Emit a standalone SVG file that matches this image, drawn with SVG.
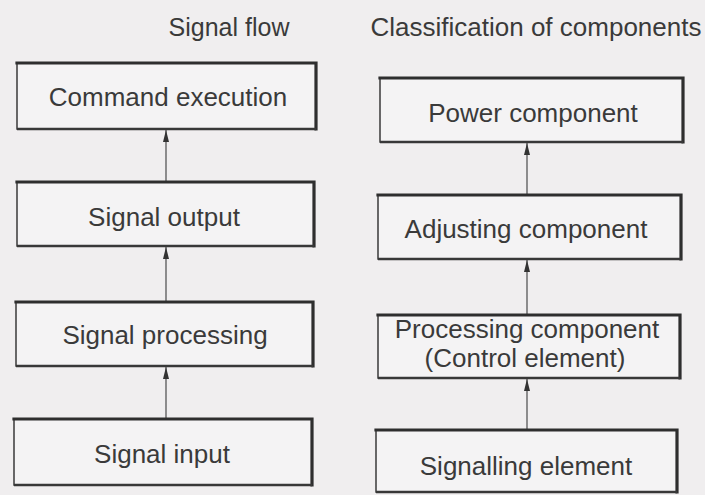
<svg xmlns="http://www.w3.org/2000/svg" width="705" height="495" viewBox="0 0 705 495">
  <style>
    .bg { fill: #f0eeef; }
    .box { fill: #f4f3f4; stroke: #3a3a3a; stroke-width: 1.5; }
    .edge { fill: none; stroke: #2e2e2e; stroke-width: 3.2; stroke-linecap: square; }
    .bot { fill: none; stroke: #383838; stroke-width: 2.4; }
    .lbl { font-family: "Liberation Sans", Arial, sans-serif; font-size: 26px; fill: #3a3a3a; text-anchor: middle; }
    .ttl { font-family: "Liberation Sans", Arial, sans-serif; fill: #3a3a3a; text-anchor: middle; }
    .conn { stroke: #4a4a4a; stroke-width: 1.2; fill: none; marker-end: url(#ah); }
  </style>
  <defs>
    <marker id="ah" viewBox="0 0 12 8" refX="12" refY="4" markerWidth="12" markerHeight="8" markerUnits="userSpaceOnUse" orient="auto">
      <path d="M0,1 L12,4 L0,7 Z" fill="#333"/>
    </marker>
  </defs>
  <rect class="bg" x="0" y="0" width="705" height="495"/>

  <text class="ttl" x="229" y="36" font-size="25">Signal flow</text>
  <text class="ttl" x="536" y="36" font-size="26">Classification of components</text>

  <g id="connectors">
    <line class="conn" x1="166" y1="182" x2="166" y2="130"/>
    <line class="conn" x1="166" y1="302" x2="166" y2="247"/>
    <line class="conn" x1="166" y1="419" x2="166" y2="367"/>
    <line class="conn" x1="527" y1="195" x2="527" y2="143"/>
    <line class="conn" x1="527" y1="315" x2="527" y2="260"/>
    <line class="conn" x1="527" y1="430" x2="527" y2="379"/>
  </g>

  <g id="command-execution">
    <rect class="box" x="17" y="63" width="299" height="66"/>
    <polyline class="edge" points="17,63 316,63 316,129"/>
    <line class="bot" x1="17" y1="129" x2="316" y2="129"/>
    <text class="lbl" x="168" y="106">Command execution</text>
  </g>
  <g id="signal-output">
    <rect class="box" x="17" y="182" width="297" height="64"/>
    <polyline class="edge" points="17,182 314,182 314,246"/>
    <line class="bot" x1="17" y1="246" x2="314" y2="246"/>
    <text class="lbl" x="164" y="226">Signal output</text>
  </g>
  <g id="signal-processing">
    <rect class="box" x="16" y="302" width="297" height="64"/>
    <polyline class="edge" points="16,302 313,302 313,366"/>
    <line class="bot" x1="16" y1="366" x2="313" y2="366"/>
    <text class="lbl" x="165" y="344">Signal processing</text>
  </g>
  <g id="signal-input">
    <rect class="box" x="14" y="419" width="298" height="66"/>
    <polyline class="edge" points="14,419 312,419 312,485"/>
    <line class="bot" x1="14" y1="485" x2="312" y2="485"/>
    <text class="lbl" x="162" y="463">Signal input</text>
  </g>

  <g id="power-component">
    <rect class="box" x="380" y="78" width="303" height="64"/>
    <polyline class="edge" points="380,78 683,78 683,142"/>
    <line class="bot" x1="380" y1="142" x2="683" y2="142"/>
    <text class="lbl" x="533" y="122">Power component</text>
  </g>
  <g id="adjusting-component">
    <rect class="box" x="378" y="195" width="303" height="64"/>
    <polyline class="edge" points="378,195 681,195 681,259"/>
    <line class="bot" x1="378" y1="259" x2="681" y2="259"/>
    <text class="lbl" x="526" y="238">Adjusting component</text>
  </g>
  <g id="processing-component">
    <rect class="box" x="378" y="315" width="302" height="63"/>
    <polyline class="edge" points="378,315 680,315 680,378"/>
    <line class="bot" x1="378" y1="378" x2="680" y2="378"/>
    <text class="lbl" x="527" y="338">Processing component</text>
    <text class="lbl" x="525" y="367">(Control element)</text>
  </g>
  <g id="signalling-element">
    <rect class="box" x="376" y="430" width="301" height="62"/>
    <polyline class="edge" points="376,430 677,430 677,492"/>
    <line class="bot" x1="376" y1="492" x2="677" y2="492"/>
    <text class="lbl" x="526" y="475">Signalling element</text>
  </g>
</svg>
